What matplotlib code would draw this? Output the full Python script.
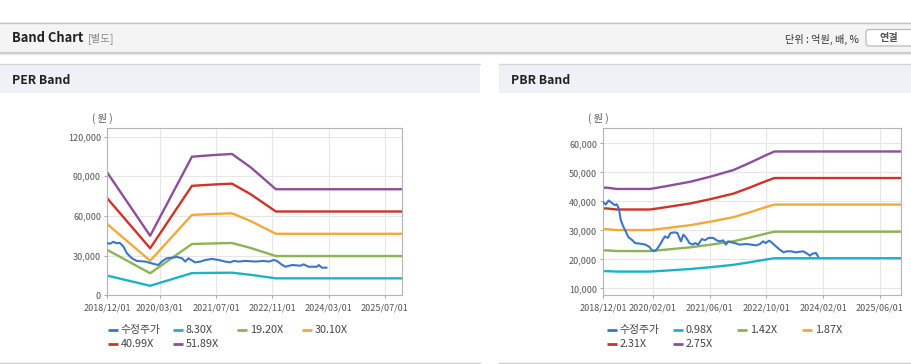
import matplotlib
matplotlib.use('Agg')
import matplotlib.pyplot as plt
from matplotlib.patches import Rectangle, FancyBboxPatch
from matplotlib.ticker import FuncFormatter

plt.rcParams['font.family'] = ['Noto Sans CJK KR', 'DejaVu Sans']

# x 값은 2018/12/01 부터의 개월 수
per_ticks = [0, 15, 31, 47, 63, 79]
per_tick_labels = ['2018/12/01', '2020/03/01', '2021/07/01', '2022/11/01', '2024/03/01', '2025/07/01']
pbr_ticks = [0, 14, 30, 46, 62, 78]
pbr_tick_labels = ['2018/12/01', '2020/02/01', '2021/06/01', '2022/10/01', '2024/02/01', '2025/06/01']

# 수정주가 (PER 차트)
per_price_month = [0, 0.8, 1.7, 2.6, 3.5, 4.2, 4.6, 5.6, 7.0, 8.4, 10.8, 12.6, 14.5, 15.7, 16.9,
                   18.4, 19.8, 21.3, 22.2, 23.1, 24.3, 25.0, 26.5, 27.9, 29.8, 31.7, 33.6, 35.0,
                   36.0, 37.4, 39.3, 42.2, 44.5, 46.0, 47.4, 48.3, 49.5, 50.7, 52.6, 55.0, 55.9,
                   57.3, 59.7, 60.2, 61.1, 62.4]
per_price = [39400, 39000, 40500, 39400, 39700, 38000, 36800, 31700, 28000, 26000, 25500, 24200,
             22900, 25900, 28000, 28400, 29000, 28000, 25500, 28000, 26000, 24900, 25500, 26700,
             27500, 26700, 25500, 24900, 26000, 25500, 26000, 25500, 26000, 25500, 26700, 26000,
             23500, 21600, 22900, 22400, 23400, 21600, 21600, 22900, 20900, 20900]

# EPS (원) 및 PER 배수
eps_month = [0, 12.2, 24.1, 30.8, 35.5, 40.8, 48.0, 84]
eps_value = [1788, 868, 2020, 2046, 2060, 1866, 1546, 1546]
per_multiples = [8.30, 19.20, 30.10, 40.99, 51.89]
per_labels = ['8.30X', '19.20X', '30.10X', '40.99X', '51.89X']

# 수정주가 (PBR 차트)
pbr_price_month = [0, 0.7, 1.5, 2.4, 3.2, 3.8, 4.4, 4.9, 5.6, 6.3, 7.1, 8.0, 9.0, 10.4, 11.8,
                   13.0, 13.6, 14.3, 15.0, 16.0, 16.8, 17.4, 18.2, 19.0, 20.0, 20.9, 21.9, 22.6,
                   23.4, 24.3, 25.2, 25.9, 26.8, 27.8, 28.7, 29.7, 31.0, 32.0, 32.9, 33.8, 34.6,
                   35.2, 36.2, 37.1, 38.5, 40.4, 41.8, 43.2, 44.2, 45.1, 45.8, 46.8, 47.7, 48.7,
                   49.8, 50.9, 51.7, 53.1, 54.3, 55.5, 56.4, 57.3, 58.3, 59.0, 60.0, 60.6]
pbr_price = [39700, 38900, 40300, 39500, 38700, 39000, 37500, 33700, 31400, 29700, 27600, 26800,
             25600, 25400, 25100, 24300, 23300, 22800, 23300, 25100, 26800, 27900, 27400, 29100,
             29300, 29100, 26200, 28500, 27400, 25600, 25100, 25600, 25100, 27000, 26600, 27400,
             27400, 26550, 26210, 26550, 25060, 26210, 25860, 25630, 25060, 25290, 25060, 24830,
             25290, 26210, 25630, 26440, 25630, 24480, 23330, 22410, 22760, 22760, 22410, 22640,
             22760, 22180, 21260, 21950, 22180, 21030]

# BPS (원) 및 PBR 배수
bps_month = [0, 1.0, 3.8, 13.2, 18.0, 24.5, 30.1, 36.7, 41.4, 46.0, 48.3, 84]
bps_value = [16260, 16260, 16100, 16100, 16470, 17000, 17630, 18470, 19390, 20360, 20800, 20800]
pbr_multiples = [0.98, 1.42, 1.87, 2.31, 2.75]
pbr_labels = ['0.98X', '1.42X', '1.87X', '2.31X', '2.75X']

price_color = '#3a77c6'
band_colors = ['#1db2c8', '#8db454', '#f1a93a', '#cf3327', '#8d4f9c']

W, H = 912, 364
fig = plt.figure(figsize=(W / 100, H / 100), dpi=100)
fig.patch.set_facecolor('white')

# 배경 (픽셀 좌표)
bg = fig.add_axes([0, 0, 1, 1])
bg.set_xlim(0, W)
bg.set_ylim(H, 0)
bg.axis('off')

bg.add_patch(Rectangle((0, 22), W, 31, facecolor='#f4f4f4', edgecolor='none'))
bg.plot([0, W], [22.5, 22.5], color='#c6c6c6', lw=1)
bg.plot([0, W], [52.8, 52.8], color='#bdbdbd', lw=1.1)
bg.plot([0, W], [54.2, 54.2], color='#e6e6e6', lw=1)
bg.text(12, 38.5, 'Band Chart', fontsize=9.3, fontweight='bold', color='#222222', va='center')
bg.text(88, 38.5, '[별도]', fontsize=7.5, color='#8a8a8a', va='center')
bg.text(859, 39, '단위 : 억원, 배, %', fontsize=7.3, color='#333333', va='center', ha='right')
bg.add_patch(FancyBboxPatch((866, 29.5), 52, 16.5, boxstyle='round,pad=0,rounding_size=3',
                            facecolor='white', edgecolor='#b8b8b8', lw=0.9))
bg.text(889, 38.5, '연결', fontsize=7.3, color='#555555', va='center', ha='center', fontweight='bold')

for x0, x1, title in [(0, 480, 'PER Band'), (499, W, 'PBR Band')]:
    bg.add_patch(Rectangle((x0, 64), x1 - x0, 29, facecolor='#eef2f6', edgecolor='none'))
    bg.plot([x0, x1], [64.3, 64.3], color='#d6d6d6', lw=1)
    bg.plot([x0, x1], [362.5, 362.5], color='#cfcfcf', lw=1)
    bg.text(x0 + 12, 80, title, fontsize=8.8, fontweight='bold', color='#222222', va='center')


def make_axes(rect_px):
    left, top, right, bottom = rect_px
    ax = fig.add_axes([left / W, 1 - bottom / H, (right - left) / W, (bottom - top) / H])
    ax.set_facecolor('white')
    for s in ax.spines.values():
        s.set_color('#b5b5b5')
        s.set_linewidth(0.8)
    ax.grid(True, color='#e6e6e6', lw=0.8)
    ax.set_axisbelow(True)
    ax.tick_params(axis='both', labelsize=6.5, labelcolor='#555555', color='#aaaaaa',
                   length=2.5, width=0.8)
    ax.tick_params(axis='x', pad=3.5)
    ax.tick_params(axis='y', pad=2)
    ax.yaxis.set_major_formatter(FuncFormatter(lambda v, p: f'{v:,.0f}'))
    ax.set_xlim(0, 84)
    return ax


def draw_legend(items, xs, ys):
    for (label, color), x, y in zip(items, xs, ys):
        bg.plot([x, x + 10.5], [y, y], color=color, lw=2, solid_capstyle='butt')
        bg.text(x + 13, y + 0.3, label, fontsize=7.8, color='#444444', va='center')


# PER Band
ax1 = make_axes((107.3, 128.3, 402.3, 295.3))
for m, c in zip(per_multiples, band_colors):
    ax1.plot(eps_month, [e * m for e in eps_value], color=c, lw=1.7, zorder=2)
ax1.plot(per_price_month, per_price, color=price_color, lw=1.5, zorder=3)
ax1.set_ylim(0, 126300)
ax1.set_yticks([0, 30000, 60000, 90000, 120000])
ax1.set_xticks(per_ticks)
ax1.set_xticklabels(per_tick_labels)
bg.text(102, 118, '( 원 )', fontsize=7.3, color='#555555', va='center', ha='center')

items = [('수정주가', price_color)] + list(zip(per_labels, band_colors))
draw_legend(items, [107.7, 173, 236.7, 301.7, 107.7, 173], [330, 330, 330, 330, 343.5, 343.5])

# PBR Band
ax2 = make_axes((603.3, 128.3, 901, 295))
for m, c in zip(pbr_multiples, band_colors):
    ax2.plot(bps_month, [b * m for b in bps_value], color=c, lw=1.7, zorder=2)
ax2.plot(pbr_price_month, pbr_price, color=price_color, lw=1.5, zorder=3)
ax2.set_ylim(7700, 65200)
ax2.set_yticks([10000, 20000, 30000, 40000, 50000, 60000])
ax2.set_xticks(pbr_ticks)
ax2.set_xticklabels(pbr_tick_labels)
bg.text(598, 118, '( 원 )', fontsize=7.3, color='#555555', va='center', ha='center')

items = [('수정주가', price_color)] + list(zip(pbr_labels, band_colors))
draw_legend(items, [606.7, 672.7, 736.7, 801.7, 606.7, 672.7], [330, 330, 330, 330, 343.5, 343.5])

fig.savefig('out.png', dpi=100)
